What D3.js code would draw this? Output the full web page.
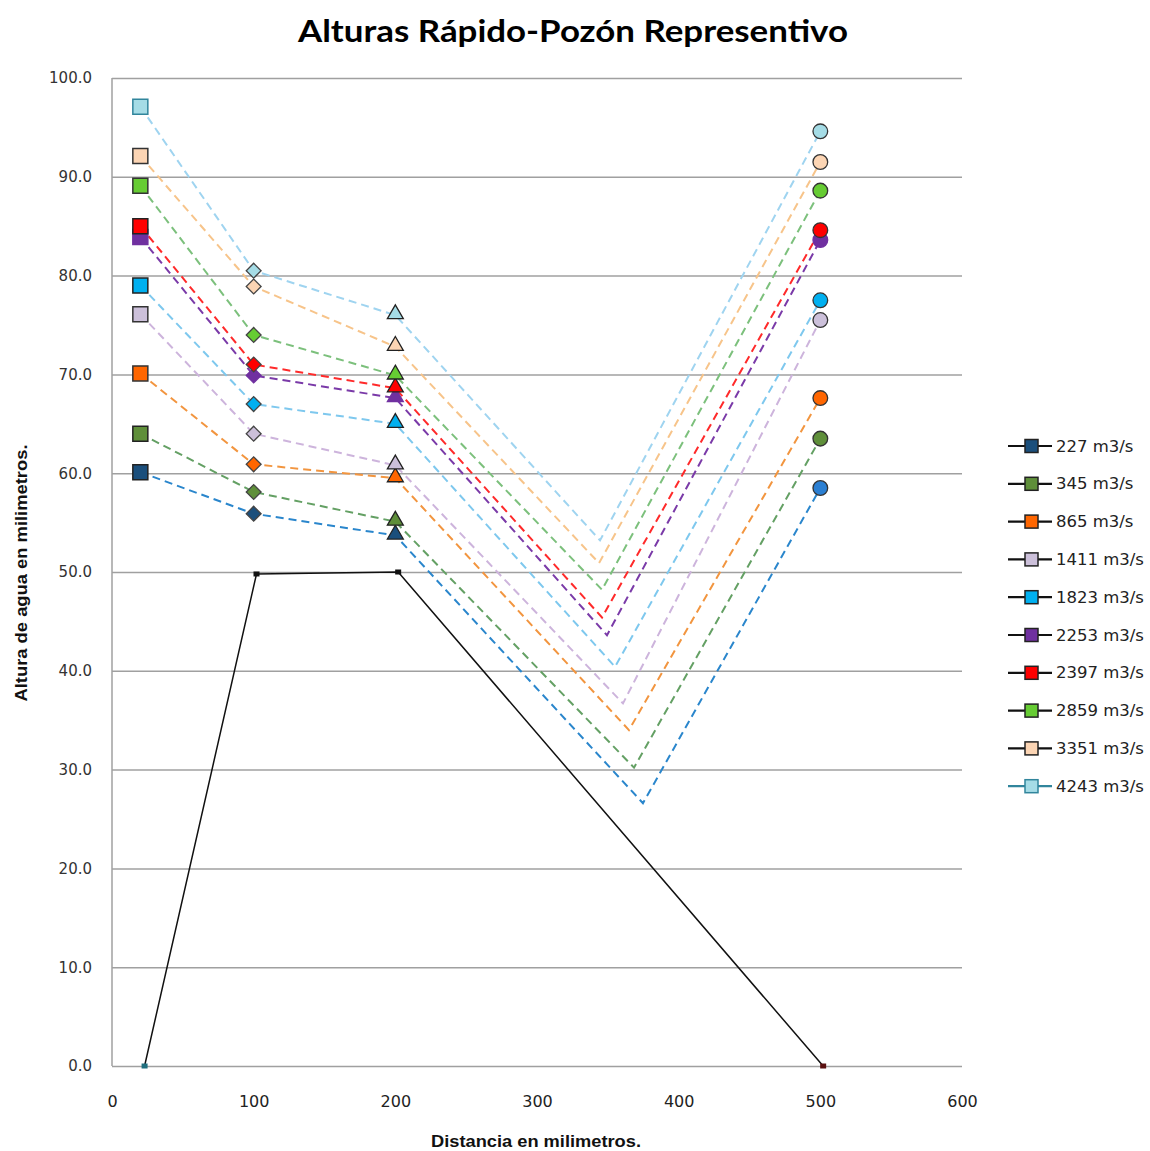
<!DOCTYPE html>
<html><head><meta charset="utf-8">
<script src="https://cdn.jsdelivr.net/npm/d3@7"></script>
<style>body{margin:0;background:#fff}svg{display:block}</style>
</head><body>
<svg id="c" width="1150" height="1151"></svg>
<script>
// ---- data ----
const flows = ["227 m3/s","345 m3/s","865 m3/s","1411 m3/s","1823 m3/s","2253 m3/s","2397 m3/s","2859 m3/s","3351 m3/s","4243 m3/s"];
const stationX = [20, 100, 200, 500];
const h20  = [60.1, 64.0, 70.1, 76.1, 79.0, 83.9, 85.0, 89.1, 92.1, 97.1];
const h100 = [55.9, 58.1, 60.9, 64.0, 67.0, 69.9, 71.0, 74.0, 78.9, 80.5];
const h200 = [53.7, 55.1, 59.5, 60.8, 65.0, 67.6, 68.6, 69.9, 72.8, 76.0];
const poolX = [374.8, 368.5, 364.9, 360.7, 355.1, 349.4, 345.9, 345.9, 343.8, 344.5];
const poolH = [26.6, 30.2, 34.0, 36.7, 40.4, 43.6, 45.4, 48.2, 50.9, 53.2];
const h500 = [58.5, 63.5, 67.6, 75.5, 77.5, 83.6, 84.6, 88.6, 91.5, 94.6];
const profileX = [23, 102, 202, 502];
const profileY = [0, 49.8, 50.0, 0];
const xTicks = [0, 100, 200, 300, 400, 500, 600];
const yTicks = [0, 10, 20, 30, 40, 50, 60, 70, 80, 90, 100];

// ---- styles ----
const fillCol = ["#1b4f7c","#5f8f3a","#ff6600","#ccc0da","#00b0f0","#7030a0","#ff0000","#66cc33","#fcd5b4","#a5dce6"];
const circleFill = ["#2b7fd2","#5f8f3a","#ff6600","#ccc0da","#00b0f0","#7030a0","#ff0000","#66cc33","#fcd5b4","#a5dce6"];
const lineCol = ["#2a86cc","#64a064","#f2953f","#cdb4dc","#7ec8ee","#7a3aa8","#ff2a2a","#7cc07c","#f7c48a","#9fd4f0"];
const strokeCol = ["#222","#222","#333","#333","#222","#7030a0","#222","#333","#333","#31859c"];

const svg = d3.select("#c");
const x = d3.scaleLinear().domain([0,600]).range([112,962]);
const y = d3.scaleLinear().domain([0,100]).range([1066,78]);

// title
svg.append("text").attr("x",573).attr("y",42).attr("text-anchor","middle")
  .attr("font-family","Lato, 'Open Sans', sans-serif").attr("font-weight","bold")
  .attr("font-size",31).attr("fill","#000")
  .attr("textLength",550).attr("lengthAdjust","spacingAndGlyphs")
  .text("Alturas Rápido-Pozón Representivo");

// grid
const grid = svg.append("g").attr("transform","translate(112,0)")
  .call(d3.axisLeft(y).tickValues(yTicks).tickSize(-850).tickFormat(""));
grid.select(".domain").remove();
grid.selectAll("line").attr("stroke","#a0a0a0").attr("stroke-width",1.5);

// y axis line
svg.append("line").attr("x1",112).attr("x2",112).attr("y1",y(100)).attr("y2",y(0))
  .attr("stroke","#a0a0a0").attr("stroke-width",1.5);

// y tick labels
const ya = svg.append("g").attr("transform","translate(112,0)")
  .call(d3.axisLeft(y).tickValues(yTicks).tickSize(0).tickPadding(20).tickFormat(d3.format(".1f")));
ya.select(".domain").remove();
ya.selectAll("text").attr("font-family","'DejaVu Sans', Verdana, sans-serif").attr("font-size",15)
  .attr("fill","#333");

// x tick labels
const xa = svg.append("g").attr("transform","translate(0,1066)")
  .call(d3.axisBottom(x).tickValues(xTicks).tickSize(0).tickPadding(30));
xa.select(".domain").remove();
xa.selectAll("text").attr("font-family","'DejaVu Sans', Tahoma, sans-serif").attr("font-size",16)
  .attr("fill","#222");

// axis titles
svg.append("text").attr("x",536).attr("y",1147).attr("text-anchor","middle")
  .attr("font-family","'Liberation Sans', Arial, sans-serif").attr("font-weight","bold")
  .attr("font-size",17).attr("fill","#111")
  .attr("textLength",210).attr("lengthAdjust","spacingAndGlyphs")
  .text("Distancia  en milimetros.");
svg.append("text").attr("transform","translate(27,573) rotate(-90)").attr("text-anchor","middle")
  .attr("font-family","'Liberation Sans', Arial, sans-serif").attr("font-weight","bold")
  .attr("font-size",17).attr("fill","#111")
  .attr("textLength",257).attr("lengthAdjust","spacingAndGlyphs")
  .text("Altura de agua  en milimetros.");

// profile (black line)
const prof = profileX.map((d,i)=>[d,profileY[i]]);
svg.append("path").attr("d", d3.line().x(d=>x(d[0])).y(d=>y(d[1]))(prof))
  .attr("fill","none").attr("stroke","#111").attr("stroke-width",1.5);
const profCols = ["#1f6f7f","#111","#111","#5a1010"];
svg.selectAll(".pm").data(prof).enter().append("rect")
  .attr("x",d=>x(d[0])-3).attr("y",d=>y(d[1])-2.5).attr("width",6).attr("height",5)
  .attr("fill",(d,i)=>profCols[i]);

// series lines
const line = d3.line().x(d=>x(d[0])).y(d=>y(d[1]));
flows.forEach((f,i)=>{
  const pts = [[stationX[0],h20[i]],[stationX[1],h100[i]],[stationX[2],h200[i]],[poolX[i],poolH[i]],[stationX[3],h500[i]]];
  svg.append("path").attr("d",line(pts)).attr("fill","none")
    .attr("stroke",lineCol[i]).attr("stroke-width",2).attr("stroke-dasharray","8,5");
});

// markers
const sq = d3.symbol().type(d3.symbolSquare).size(225);
const dia = d3.symbol().type(d3.symbolSquare).size(110);
const tri = d3.symbol().type(d3.symbolTriangle).size(110);
const cir = d3.symbol().type(d3.symbolCircle).size(170);
flows.forEach((f,i)=>{
  const g = svg.append("g");
  g.append("path").attr("d",sq()).attr("transform",`translate(${x(stationX[0])},${y(h20[i])})`)
    .attr("fill",fillCol[i]).attr("stroke",strokeCol[i]).attr("stroke-width",1.5);
  g.append("path").attr("d",dia()).attr("transform",`translate(${x(stationX[1])},${y(h100[i])}) rotate(45)`)
    .attr("fill",fillCol[i]).attr("stroke",i==5?fillCol[i]:"#444").attr("stroke-width",1.3);
  g.append("path").attr("d",tri()).attr("transform",`translate(${x(stationX[2])},${y(h200[i])-1})`)
    .attr("fill",fillCol[i]).attr("stroke",i==5?fillCol[i]:"#222").attr("stroke-width",1.3);
  g.append("path").attr("d",cir()).attr("transform",`translate(${x(stationX[3])},${y(h500[i])})`)
    .attr("fill",circleFill[i]).attr("stroke",i==5?fillCol[i]:"#333").attr("stroke-width",1.3);
});

// legend
const leg = svg.append("g");
flows.forEach((f,i)=>{
  const yy = 446 + i*37.8;
  const lc = i==9 ? "#31859c" : "#111";
  leg.append("line").attr("x1",1008).attr("x2",1052).attr("y1",yy).attr("y2",yy)
    .attr("stroke",lc).attr("stroke-width",2.2);
  leg.append("rect").attr("x",1025).attr("y",yy-6.5).attr("width",13).attr("height",13)
    .attr("fill",fillCol[i]).attr("stroke",i==9?"#31859c":"#222").attr("stroke-width",1.5);
  leg.append("text").attr("x",1056).attr("y",yy+5.5)
    .attr("font-family","'DejaVu Sans', Tahoma, sans-serif").attr("font-size",16.5).attr("fill","#222")
    .text(f);
});
</script>
</body></html>
